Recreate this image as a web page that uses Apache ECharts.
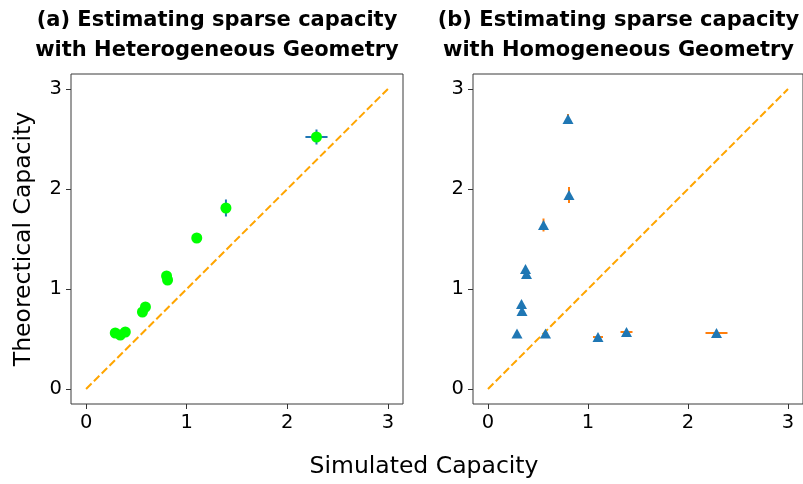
<!DOCTYPE html>
<html>
<head>
<meta charset="utf-8">
<script src="https://cdn.jsdelivr.net/npm/echarts@6/dist/echarts.min.js"></script>
<style>
html,body{margin:0;padding:0;background:#fff;}
#chart{width:803px;height:484px;}
</style>
</head>
<body>
<div id="chart"></div>
<script>
// ---- data ----
const tickValues = [0, 1, 2, 3];
const diagX = [0, 3];
const diagY = [0, 3];

const heteroX    = [2.29, 1.39, 1.10, 0.80, 0.81, 0.59, 0.56, 0.29, 0.34, 0.39];
const heteroY    = [2.52, 1.81, 1.51, 1.13, 1.09, 0.82, 0.77, 0.56, 0.54, 0.57];
const heteroXErr = [0.11, 0.05, 0.02, 0.02, 0.02, 0.01, 0.01, 0.01, 0.01, 0.01];
const heteroYErr = [0.075, 0.085, 0.03, 0.03, 0.03, 0.02, 0.02, 0.01, 0.01, 0.01];

const homoX    = [0.80, 0.81, 0.555, 0.375, 0.385, 0.335, 0.34, 0.29, 0.575, 1.10, 1.385, 2.285];
const homoY    = [2.70, 1.94, 1.64, 1.20, 1.15, 0.85, 0.78, 0.555, 0.555, 0.52, 0.57, 0.56];
const homoXErr = [0.01, 0.01, 0.01, 0.01, 0.01, 0.01, 0.01, 0.01, 0.01, 0.05, 0.06, 0.11];
const homoYErr = [0.05, 0.08, 0.065, 0.02, 0.02, 0.02, 0.02, 0.01, 0.01, 0.01, 0.02, 0.01];

const titleA = "(a) Estimating sparse capacity\nwith Heterogeneous Geometry";
const titleB = "(b) Estimating sparse capacity\nwith Homogeneous Geometry";
const xName = "Simulated Capacity";
const yName = "Theorectical Capacity";

// ---- build ----
const FONT = "DejaVu Sans";
function zip(a, b, c, d) { return a.map((v, i) => d ? [v, b[i], c[i], d[i]] : [v, b[i]]); }

function errRender(color) {
  return function (params, api) {
    const x = api.value(0), y = api.value(1), xe = api.value(2), ye = api.value(3);
    const a = api.coord([x - xe, y]), b = api.coord([x + xe, y]);
    const c = api.coord([x, y - ye]), d = api.coord([x, y + ye]);
    const st = { stroke: color, lineWidth: 2 };
    return {
      type: 'group',
      children: [
        { type: 'line', shape: { x1: a[0], y1: a[1], x2: b[0], y2: b[1] }, style: st },
        { type: 'line', shape: { x1: c[0], y1: c[1], x2: d[0], y2: d[1] }, style: st }
      ]
    };
  };
}

function axisCommon() {
  return {
    type: 'value', min: -0.15, max: 3.15,
    axisLine: { show: false, onZero: false },
    axisTick: { show: true, inside: false, length: 5, customValues: tickValues, lineStyle: { color: '#333', width: 1 } },
    axisLabel: { show: true, customValues: tickValues, color: '#000', fontFamily: FONT, fontSize: 19.5, margin: 9,
                 formatter: v => String(Math.round(v)) },
    splitLine: { show: false }
  };
}

const grids = [
  { left: 71, top: 74, width: 332, height: 330, show: true, borderColor: '#3a3a3a', borderWidth: 1, backgroundColor: '#fff' },
  { left: 473, top: 74, width: 332, height: 330, show: true, borderColor: '#3a3a3a', borderWidth: 1, backgroundColor: '#fff' }
];

const option = {
  animation: false,
  backgroundColor: '#fff',
  title: [
    { text: titleA, left: 212, top: 1, textAlign: 'center',
      textStyle: { fontFamily: FONT, fontSize: 21, fontWeight: 'bold', color: '#000', lineHeight: 30 } },
    { text: titleB, left: 613.5, top: 1, textAlign: 'center',
      textStyle: { fontFamily: FONT, fontSize: 21, fontWeight: 'bold', color: '#000', lineHeight: 30 } }
  ],
  graphic: [
    { type: 'text', x: 424, y: 467,
      style: { text: xName, x: 0, y: 0, align: 'center', verticalAlign: 'middle', font: '23.5px "DejaVu Sans"', fill: '#000' } },
    { type: 'text', x: 24, y: 239, rotation: Math.PI / 2,
      style: { text: yName, x: 0, y: 0, align: 'center', verticalAlign: 'middle', font: '23.5px "DejaVu Sans"', fill: '#000' } }
  ],
  grid: grids,
  xAxis: [Object.assign(axisCommon(), { gridIndex: 0 }), Object.assign(axisCommon(), { gridIndex: 1 })],
  yAxis: [Object.assign(axisCommon(), { gridIndex: 0 }), Object.assign(axisCommon(), { gridIndex: 1 })],
  series: [
    { type: 'line', xAxisIndex: 0, yAxisIndex: 0, data: zip(diagX, diagY), symbol: 'none',
      lineStyle: { color: '#ffa500', width: 2, type: [7.7, 3.3] }, z: 1 },
    { type: 'custom', xAxisIndex: 0, yAxisIndex: 0, data: zip(heteroX, heteroY, heteroXErr, heteroYErr),
      renderItem: errRender('#1f77b4'), z: 2 },
    { type: 'scatter', xAxisIndex: 0, yAxisIndex: 0, data: zip(heteroX, heteroY), symbol: 'circle', symbolSize: 11,
      itemStyle: { color: '#00ff00', opacity: 1 }, z: 3 },
    { type: 'line', xAxisIndex: 1, yAxisIndex: 1, data: zip(diagX, diagY), symbol: 'none',
      lineStyle: { color: '#ffa500', width: 2, type: [7.7, 3.3] }, z: 1 },
    { type: 'custom', xAxisIndex: 1, yAxisIndex: 1, data: zip(homoX, homoY, homoXErr, homoYErr),
      renderItem: errRender('#ff7f0e'), z: 2 },
    { type: 'scatter', xAxisIndex: 1, yAxisIndex: 1, data: zip(homoX, homoY), symbol: 'triangle', symbolSize: [11, 10],
      itemStyle: { color: '#1f77b4', opacity: 1 }, z: 3 }
  ]
};

const chart = echarts.init(document.getElementById('chart'), null, { renderer: 'canvas' });
chart.setOption(option);
</script>
</body>
</html>
